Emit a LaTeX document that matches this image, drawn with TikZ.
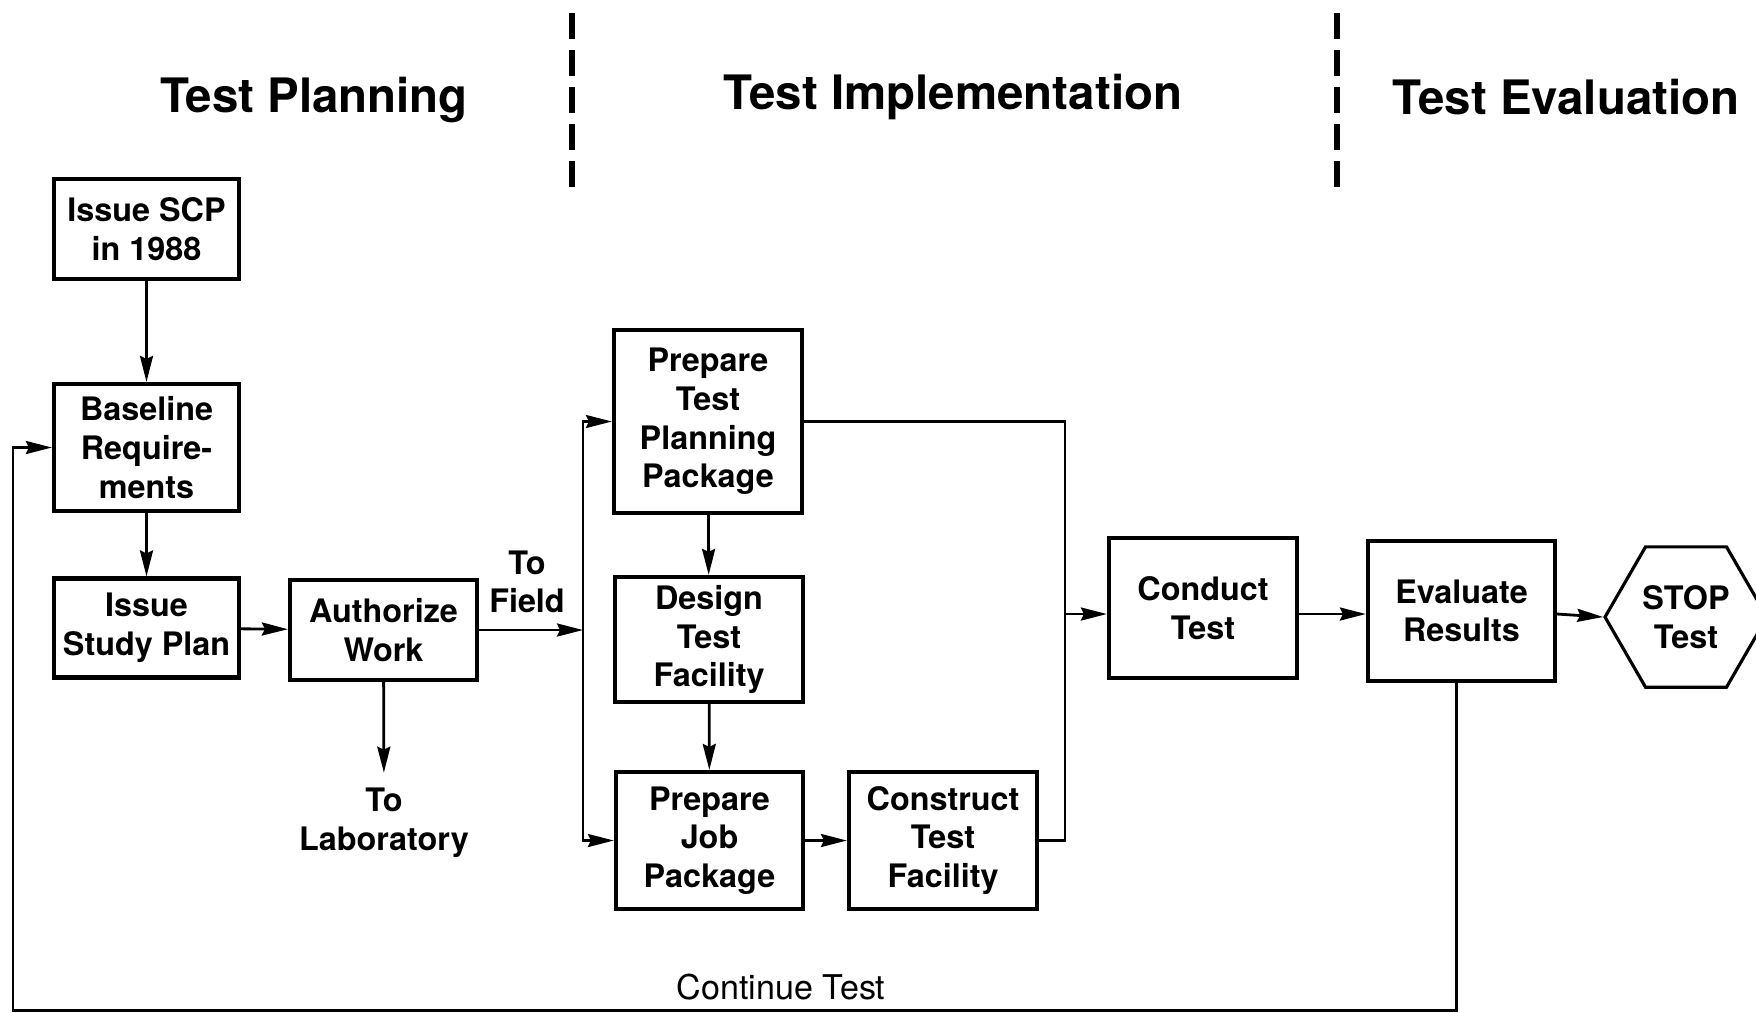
\documentclass[tikz,border=0pt]{standalone}
\usepackage{fontspec}
\setmainfont{TeX Gyre Heros}
\usetikzlibrary{arrows.meta,shapes.geometric}

\begin{document}
\begin{tikzpicture}[
    box/.style={draw, line width=1.2pt, align=center, inner sep=1pt,
        font=\bfseries\fontsize{9.2}{11}\selectfont},
    lbl/.style={align=center, font=\bfseries\fontsize{9.2}{11}\selectfont},
    heading/.style={font=\bfseries\fontsize{13.5}{16}\selectfont},
    arr/.style={-{Stealth[length=2.6mm,width=1.3mm,inset=0.3mm]}, line width=0.8pt},
    wire/.style={line width=0.8pt},
    sepline/.style={line width=1.7pt, dash pattern=on 0.26cm off 0.11cm}
]
                \useasboundingbox (0,0) rectangle (17.56,-10.12);

                \node[heading] (hplan) at (3.14,-1.0) {Test Planning};
                \node[heading] (himpl) at (9.53,-0.97) {Test Implementation};
                \node[heading] (heval) at (15.66,-0.97) {Test Evaluation};
                \draw[sepline] (5.72,-0.13) -- (5.72,-1.90);
                \draw[sepline] (13.37,-0.13) -- (13.37,-1.90);

                \node[box, minimum width=1.85cm, minimum height=1.0cm] (scp) at (1.465,-2.29) {Issue SCP\\in 1988};
                \node[box, minimum width=1.85cm, minimum height=1.27cm] (base) at (1.465,-4.475) {Baseline\\Require-\\ments};
                \node[box, minimum width=1.85cm, minimum height=0.99cm] (study) at (1.465,-6.28) {Issue\\Study Plan};
                \node[box, minimum width=1.87cm, minimum height=1.0cm] (auth) at (3.835,-6.30) {Authorize\\Work};
                \node[lbl] (tofield) at (5.27,-5.82) {To\\Field};
                \node[lbl, inner sep=0.15cm] (tolab) at (3.84,-8.23) {To\\Laboratory};

                \node[box, minimum width=1.88cm, minimum height=1.83cm] (ptpp) at (7.08,-4.215) {Prepare\\Test\\Planning\\Package};
                \node[box, minimum width=1.88cm, minimum height=1.25cm] (dtf) at (7.09,-6.395) {Design\\Test\\Facility};
                \node[box, minimum width=1.87cm, minimum height=1.37cm] (pjp) at (7.095,-8.405) {Prepare\\Job\\Package};
                \node[box, minimum width=1.88cm, minimum height=1.37cm] (ctf) at (9.43,-8.405) {Construct\\Test\\Facility};

                \node[box, minimum width=1.88cm, minimum height=1.40cm] (cond) at (12.03,-6.08) {Conduct\\Test};
                \node[box, minimum width=1.87cm, minimum height=1.40cm] (eval) at (14.615,-6.11) {Evaluate\\Results};
                \node[box, line width=0.9pt, regular polygon, regular polygon sides=6, minimum size=1.62cm, inner sep=0pt] (stop) at (16.86,-6.17) {STOP\\Test};

                \node[font=\fontsize{9.7}{11}\selectfont] (cont) at (7.81,-9.87) {Continue Test};

                \coordinate (lbus) at (5.83,-6.30);
                \coordinate (rbus) at (10.65,-6.14);
                \coordinate (loopl) at (0.13,-10.105);

                \draw[arr] (scp) -- (base); \draw[arr] (base) -- (study); \draw[arr] (study) -- (auth);
                \draw[arr] (auth) -- (tolab); \draw[arr] (auth) -- (lbus);
                \draw[arr] (lbus) |- (ptpp); \draw[arr] (lbus) |- (pjp);
                \draw[arr] (ptpp) -- (dtf); \draw[arr] (dtf) -- (pjp); \draw[arr] (pjp) -- (ctf);
                \draw[wire] (ptpp) -| (rbus); \draw[wire] (ctf) -| (rbus);
                \draw[arr] (rbus) -- (rbus -| cond.west); \draw[arr] (cond.east |- rbus) -- (eval.west |- rbus); \draw[arr] (eval.east |- rbus) -- (stop.west);
                \draw[arr] ([xshift=-0.05cm]eval.south) |- (loopl) |- (base);
            \end{tikzpicture}
\end{document}
